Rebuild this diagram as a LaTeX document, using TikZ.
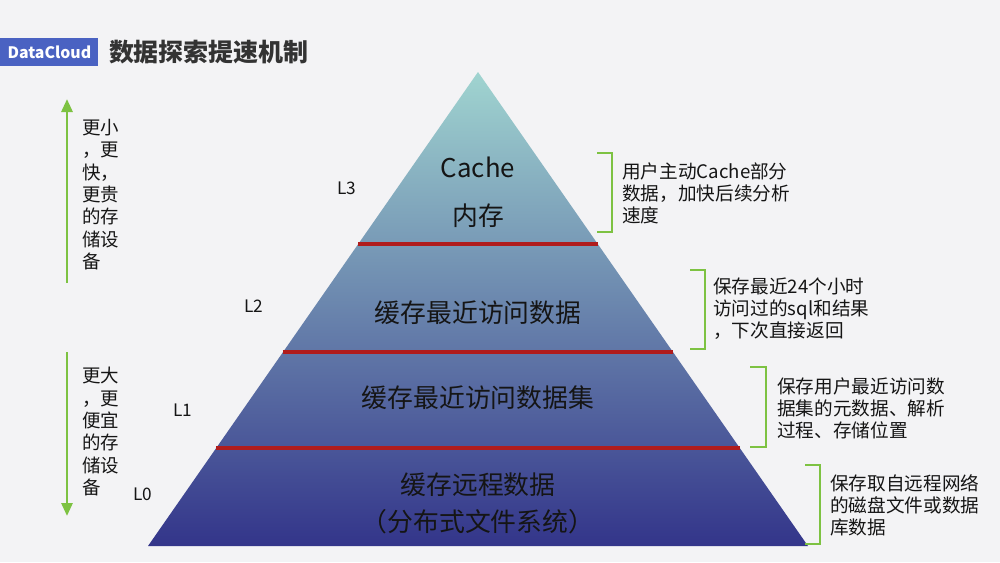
\documentclass[tikz,border=0pt]{standalone}
\usepackage{fontspec}
\setmainfont{Noto Sans CJK SC}
\usetikzlibrary{arrows.meta,positioning,calc}
\definecolor{dcblue}{HTML}{4A62C2}
\definecolor{tgreen}{HTML}{7DC242}
\definecolor{sepred}{HTML}{B01C1C}
\definecolor{pyrtop}{HTML}{A0D4D0}
\definecolor{pyrmid}{HTML}{7396B4}
\definecolor{pyrbot}{HTML}{33358A}
\definecolor{bggray}{HTML}{F3F3F5}
\definecolor{ink}{HTML}{151515}
\definecolor{titlegray}{HTML}{333333}

\begin{document}
\begin{tikzpicture}[
 x=0.02cm,y=-0.02cm,
 lvl/.style={font=\fontsize{14.7}{20}\selectfont,text=ink},
 tag/.style={font=\fontsize{9.8}{12}\selectfont,text=ink},
 side/.style={anchor=north west,align=left,font=\fontsize{10.5}{12.7}\selectfont,text=ink,inner sep=0pt},
 note/.style={anchor=west,align=left,font=\fontsize{10.6}{12.5}\selectfont,text=ink,inner sep=0pt},
 brk/.style={draw=tgreen,line width=1.6pt},
 garr/.style={draw=tgreen,line width=1.6pt,-{Triangle[length=2.6mm,width=2.2mm]}},
 sep/.style={draw=sepred,line width=2.2pt}
]
\fill[bggray] (0,0) rectangle (1000,562);
\useasboundingbox (0,0) rectangle (1000,562);

% header
\node[fill=dcblue,text=white,font=\bfseries\fontsize{9}{10}\selectfont,minimum width=1.96cm,minimum height=0.56cm,inner sep=0pt,anchor=north west] (dc) at (0,38) {DataCloud};
\node[right=0.2cm of dc,inner sep=0pt,font=\bfseries\fontsize{14.2}{16}\selectfont,text=titlegray] (title) {数据探索提速机制};

% pyramid
\coordinate (apex) at (478,72);
\coordinate (bl) at (148,546);
\coordinate (br) at (808,546);
\shade[top color=pyrtop,middle color=pyrmid,bottom color=pyrbot] (apex) -- (bl) -- (br) -- cycle;
\draw[sep] ($(apex)!0.363!(bl)$) -- ($(apex)!0.363!(br)$);
\draw[sep] ($(apex)!0.591!(bl)$) -- ($(apex)!0.591!(br)$);
\draw[sep] ($(apex)!0.793!(bl)$) -- ($(apex)!0.793!(br)$);

\node[lvl] (cache) at (478,167) {Cache};
\node[lvl] (mem) at (478,216) {内存};
\node[lvl] (l2txt) at (478,313) {缓存最近访问数据};
\node[lvl] (l1txt) at (478,398) {缓存最近访问数据集};
\node[lvl] (l0txt) at (478,485) {缓存远程数据};
\node[lvl] (l0sub) at (478,522) {（分布式文件系统）};

% level tags
\node[tag] (L3) at (347,188) {L3};
\node[tag] (L2) at (254,306) {L2};
\node[tag] (L1) at (183,410) {L1};
\node[tag] (L0) at (143,494) {L0};

% left arrows
\coordinate (upS) at (67,283);
\coordinate (upE) at (67,99);
\coordinate (dnS) at (67,352);
\coordinate (dnE) at (67,516);
\draw[garr] (upS) -- (upE);
\draw[garr] (dnS) -- (dnE);
\node[side] (fast) at (82,119) {更小\\，更\\快，\\更贵\\的存\\储设\\备};
\node[side] (cheap) at (82,367) {更大\\，更\\便宜\\的存\\储设\\备};

% notes
\draw[brk] (597,153) -| (612,232) -- (597,232);
\node[note] (n3) at (622,193) {用户主动Cache部分\\数据，加快后续分析\\速度};
\draw[brk] (690,270) -| (705,349) -- (690,349);
\node[note] (n2) at (713,309) {保存最近24个小时\\访问过的sql和结果\\，下次直接返回};
\draw[brk] (750,367) -| (766,447) -- (750,447);
\node[note] (n1) at (777,408) {保存用户最近访问数\\据集的元数据、解析\\过程、存储位置};
\draw[brk] (805,465) -| (820,544) -- (805,544);
\node[note] (n0) at (830,505) {保存取自远程网络\\的磁盘文件或数据\\库数据};
\end{tikzpicture}
\end{document}
